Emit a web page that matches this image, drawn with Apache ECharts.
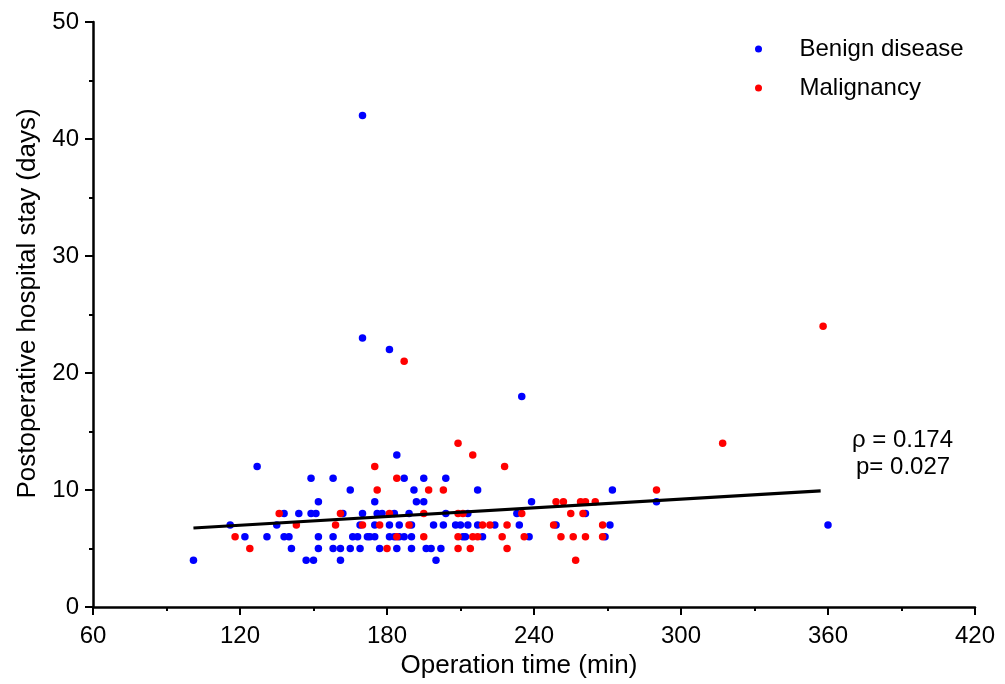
<!DOCTYPE html>
<html>
<head>
<meta charset="utf-8">
<script src="https://cdn.jsdelivr.net/npm/echarts@6/dist/echarts.min.js"></script>
<style>html,body{margin:0;padding:0;background:#fff;}#c{width:1005px;height:684px;}</style>
</head>
<body>
<div id="c"></div>
<script>
// Operation time (min), postoperative hospital stay (days)
const benign = [
  [101,4],[127,12],[138,8],[116,7],[135,7],[122,6],[131,6],[138,6],[140,6],[141,5],
  [184,13],[149,11],[158,11],[187,11],[195,11],[204,11],
  [165,10],[191,10],[217,10],[272,10],
  [152,9],[175,9],[192,9],[195,9],[239,9],[290,9],
  [144,8],[149,8],[151,8],[162,8],[170,8],[176,8],[178,8],[183,8],[189,8],[204,8],[213,8],[233,8],[261,8],
  [169,7],[175,7],[181,7],[185,7],[190,7],[199,7],[203,7],[208,7],[210,7],[213,7],[217,7],[224,7],[234,7],[249,7],[271,7],[360,7],
  [152,6],[158,6],[166,6],[168,6],[172,6],[173,6],[175,6],[181,6],[183,6],[185,6],[187,6],[190,6],[211,6],[212,6],[219,6],[238,6],[269,6],
  [152,5],[158,5],[161,5],[165,5],[169,5],[177,5],[184,5],[190,5],[196,5],[198,5],[202,5],
  [147,4],[150,4],[161,4],[200,4],
  [170,23],[181,22],[235,18],[170,42]
];
const malignancy = [
  [136,8],[118,6],[124,5],
  [209,14],[215,13],[175,12],[228,12],[184,11],
  [176,10],[197,10],[203,10],[290,10],
  [249,9],[252,9],[259,9],[261,9],[265,9],
  [161,8],[181,8],[195,8],[209,8],[211,8],[235,8],[255,8],[260,8],
  [143,7],[159,7],[170,7],[177,7],[189,7],[219,7],[222,7],[229,7],[248,7],[268,7],
  [184,6],[195,6],[209,6],[215,6],[217,6],[227,6],[236,6],[251,6],[256,6],[261,6],[268,6],
  [180,5],[209,5],[214,5],[229,5],
  [257,4],
  [187,21],[358,24],[317,14]
];
const trendX = [101, 357];
const trendY = [6.75, 9.93];
const xTicks = [60, 420, 60];   // min, max, interval
const yTicks = [0, 50, 10];
const statLines = ['\u03c1 = 0.174', 'p= 0.027'];

const FONT = '"Liberation Sans", Arial, Helvetica, sans-serif';
const chart = echarts.init(document.getElementById('c'), null, {renderer: 'canvas'});
const axisCommon = {
  axisLine: {show: true, lineStyle: {color: '#000', width: 2.5}},
  axisTick: {show: true, inside: false, length: 8, lineStyle: {color: '#000', width: 2}},
  minorTick: {show: true, splitNumber: 2, length: 4, lineStyle: {color: '#000', width: 2}},
  splitLine: {show: false},
  axisLabel: {color: '#000', fontSize: 24, fontFamily: FONT, margin: 14},
  nameTextStyle: {color: '#000', fontSize: 26, fontFamily: FONT}
};
chart.setOption({
  backgroundColor: '#fff',
  animation: false,
  grid: {left: 93, right: 30, top: 22, bottom: 77, containLabel: false},
  legend: {
    orient: 'vertical', left: 750, top: 31, itemGap: 13,
    icon: 'circle', itemWidth: 14, itemHeight: 7,
    textStyle: {color: '#000', fontSize: 24, fontFamily: FONT, lineHeight: 26, padding: [0, 0, 0, 29]},
    data: ['Benign disease', 'Malignancy']
  },
  xAxis: Object.assign({}, axisCommon, {
    type: 'value', min: xTicks[0], max: xTicks[1], interval: xTicks[2],
    name: 'Operation time (min)', nameLocation: 'middle', nameGap: 45,
    axisLabel: {color: '#000', fontSize: 24, fontFamily: FONT, margin: 17},
    nameTextStyle: {color: '#000', fontSize: 26, fontFamily: FONT, padding: [0, 30, 0, 0]}
  }),
  yAxis: Object.assign({}, axisCommon, {
    type: 'value', min: yTicks[0], max: yTicks[1], interval: yTicks[2],
    name: 'Postoperative hospital stay (days)', nameLocation: 'middle', nameGap: 52,
    nameTextStyle: {color: '#000', fontSize: 26, fontFamily: FONT, padding: [0, 0, 0, 22]}
  }),
  series: [
    {name: 'Benign disease', type: 'scatter', data: benign, symbol: 'circle', symbolSize: 7.5,
     itemStyle: {color: '#0000ff', opacity: 1}, z: 2},
    {name: 'Malignancy', type: 'scatter', data: malignancy, symbol: 'circle', symbolSize: 7.5,
     itemStyle: {color: '#ff0000', opacity: 1}, z: 2},
    {name: 'trend', type: 'line', data: trendX.map((x, i) => [x, trendY[i]]), symbol: 'none',
     lineStyle: {color: '#000', width: 3.2}, z: 5, silent: true}
  ],
  graphic: [
    {type: 'text', left: 852, top: 428, style: {text: statLines[0], fill: '#000', font: '24px ' + FONT}},
    {type: 'text', left: 856, top: 455, style: {text: statLines[1], fill: '#000', font: '24px ' + FONT}}
  ]
});
</script>
</body>
</html>
